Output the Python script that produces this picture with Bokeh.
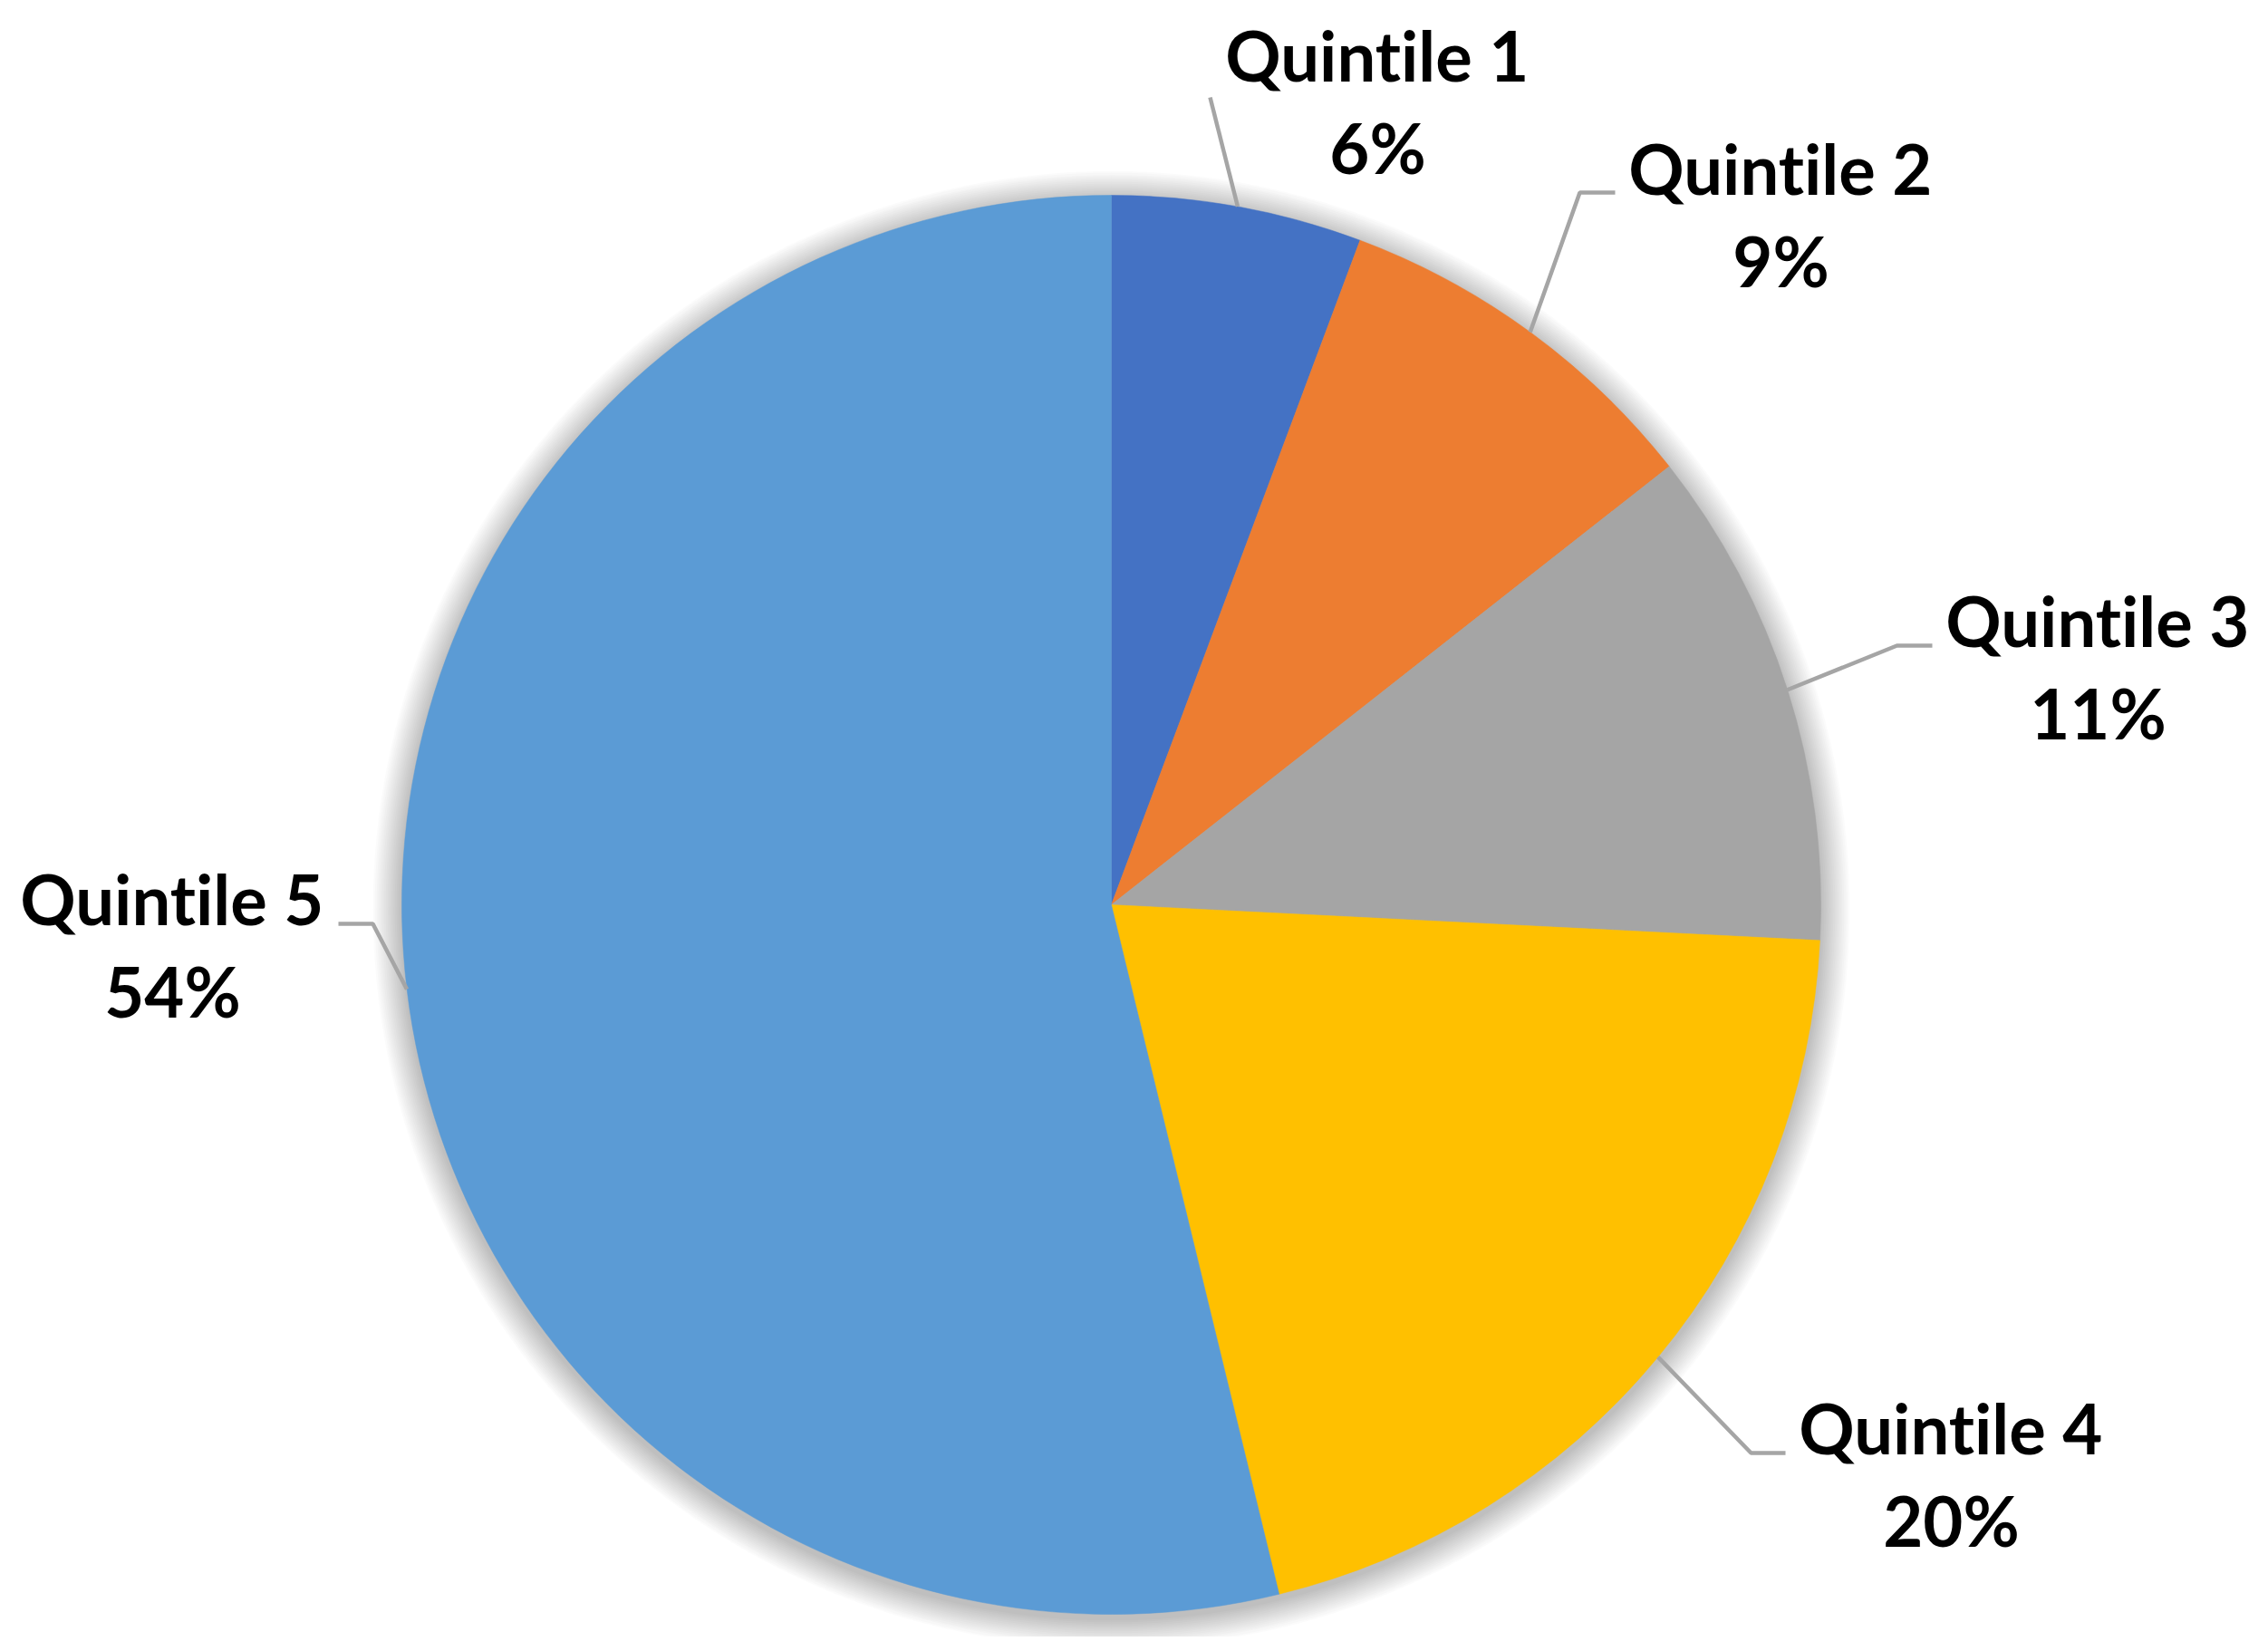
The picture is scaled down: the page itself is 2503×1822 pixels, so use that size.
import math
from bokeh.plotting import figure
from bokeh.models import Range1d, ColumnDataSource, InlineStyleSheet
from bokeh.core.properties import value
from bokeh.embed import file_html
from bokeh.resources import INLINE

# ---------------- data ----------------
categories = ["Quintile 1", "Quintile 2", "Quintile 3", "Quintile 4", "Quintile 5"]
shares = [5.7, 8.7, 11.4, 20.4, 53.8]
colors = ["#4472C4", "#ED7D31", "#A5A5A5", "#FFC000", "#5B9BD5"]

# ---------------- layout (reference pixel coords, y down) ----------------
W_IMG, H_IMG = 2503, 1822
M = 8
PW, PH = W_IMG - 2 * M, H_IMG - 2 * M
CX, CY, R = 1226, 998, 783

label_x = [1520, 1965, 2315, 2153, 190]
label_base = [88, 213, 712, 1603, 1019]
line_step = 102
text_shift = 28
leader_pts = [
    [(1335, 107)],
    [(1743, 212), (1782, 212)],
    [(2093, 712), (2132, 712)],
    [(1932, 1603), (1970, 1603)],
    [(411, 1019), (373, 1019)],
]


def fy(Y):
    return H_IMG - Y


p = figure(width=PW, height=PH, output_backend="svg", toolbar_location=None,
           x_range=Range1d(0, PW), y_range=Range1d(H_IMG - PH, H_IMG),
           min_border=0)
p.axis.visible = False
p.grid.visible = False
p.outline_line_color = None
p.background_fill_color = "white"
p.border_fill_color = "white"
p.stylesheets = [InlineStyleSheet(css=(
    ":host, :host * { font-variant-ligatures: none; "
    "font-feature-settings: 'liga' 0, 'clig' 0, 'dlig' 0; }"))]

# soft shadow behind the pie
n_sh = 16
for i in range(n_sh, 0, -1):
    p.circle(x=[CX], y=[fy(CY + 5)], radius=R + i * 2,
             fill_color="black", fill_alpha=0.014, line_color=None)

total = sum(shares)
starts, ends = [], []
acc = 0.0
for v in shares:
    starts.append(acc)
    acc += v
    ends.append(acc)

src = ColumnDataSource(dict(
    x=[CX] * len(shares),
    y=[fy(CY)] * len(shares),
    start=[math.pi / 2 - 2 * math.pi * s / total for s in starts],
    end=[math.pi / 2 - 2 * math.pi * e / total for e in ends],
    color=colors,
))
p.wedge(x="x", y="y", radius=R, start_angle="start", end_angle="end",
        direction="clock", fill_color="color", line_color="color",
        line_width=0.5, source=src)

# leader lines
xs, ys = [], []
for s, e, pts in zip(starts, ends, leader_pts):
    mid = (s + e) / 2
    th = math.pi / 2 - 2 * math.pi * mid / total
    lx = [CX + R * math.cos(th)] + [q[0] for q in pts]
    ly = [fy(CY) + R * math.sin(th)] + [fy(q[1]) for q in pts]
    xs.append(lx)
    ys.append(ly)
p.multi_line(xs=xs, ys=ys, line_color="#A5A5A5", line_width=4.5)

# labels
pct = [f"{round(v / total * 100):.0f}%" for v in shares]
font = value("Lato")
p.text(x=label_x, y=[fy(b - text_shift) for b in label_base], text=categories,
       text_align="center", text_baseline="alphabetic", text_font=font,
       text_font_style="bold", text_font_size="76px", text_color="black")
p.text(x=label_x, y=[fy(b + line_step - text_shift) for b in label_base], text=pct,
       text_align="center", text_baseline="alphabetic", text_font=font,
       text_font_style="bold", text_font_size="76px", text_color="black")

open("out.html", "w").write(file_html(p, INLINE))
